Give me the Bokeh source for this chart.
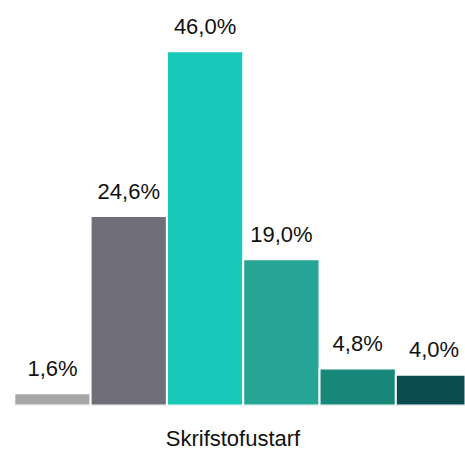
from bokeh.plotting import figure
from bokeh.models import ColumnDataSource, Range1d, FixedTicker
from bokeh.embed import file_html
from bokeh.resources import INLINE
from bokeh.core.properties import value

categories = ["A", "B", "C", "D", "E", "F"]
values = [1.6, 24.6, 46.0, 19.0, 4.8, 4.0]
labels = ["1,6%", "24,6%", "46,0%", "19,0%", "4,8%", "4,0%"]
colors = ["#a6a6a6", "#6e6d78", "#18c8b9", "#26a596", "#17877a", "#0a4b50"]
axis_title = "Skrifstofustarf"

xs = list(range(len(categories)))
src = ColumnDataSource(dict(x=xs, top=values, label=labels, color=colors))

p = figure(width=465, height=454, output_backend="svg", toolbar_location=None,
           x_range=Range1d(-0.681, 5.413), y_range=Range1d(0, 52.6),
           min_border_left=0, min_border_right=0, min_border_top=0,
           min_border_bottom=49)
p.vbar(x="x", top="top", width=1.0, bottom=0, fill_color="color",
       line_color="white", line_width=2, source=src)
p.text(x="x", y="top", text="label", source=src, text_align="center",
       text_baseline="alphabetic", y_offset=-25, text_font_size="22px",
       text_font=value("Liberation Sans"), text_color="#111111")

p.outline_line_color = None
p.xgrid.visible = False
p.ygrid.visible = False
p.yaxis.visible = False
p.xaxis.ticker = FixedTicker(ticks=[])
p.xaxis.axis_line_color = None
p.xaxis.major_tick_line_color = None
p.xaxis.minor_tick_line_color = None
p.xaxis.major_tick_out = 0
p.xaxis.major_tick_in = 0
p.xaxis.major_label_standoff = 0
p.xaxis.axis_label = axis_title
p.xaxis.axis_label_text_font = "Liberation Sans"
p.xaxis.axis_label_text_font_style = "normal"
p.xaxis.axis_label_text_font_size = "22px"
p.xaxis.axis_label_text_color = "#111111"
p.xaxis.axis_label_standoff = 20

open("out.html", "w").write(file_html(p, INLINE))
